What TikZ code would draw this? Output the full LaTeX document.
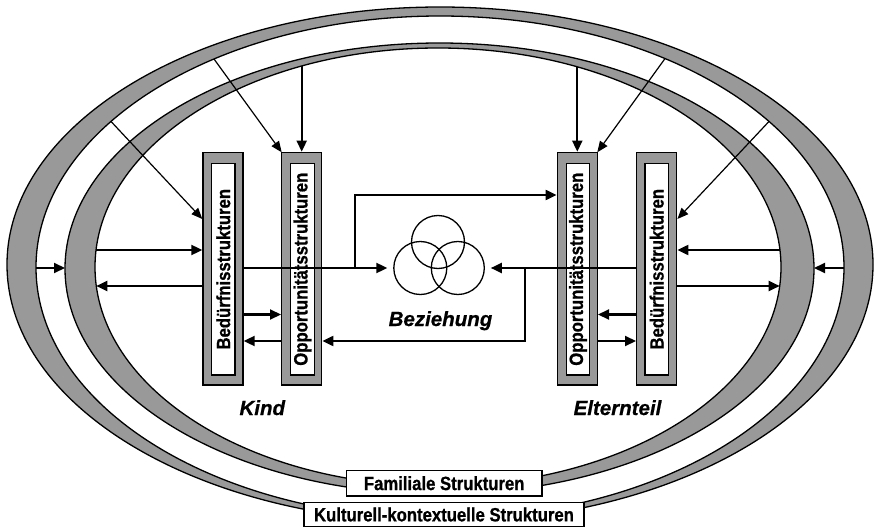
\documentclass[tikz,border=0pt]{standalone}
\usepackage{fontspec}
\setmainfont{Liberation Sans}
\newfontfamily\narrowsans[FakeStretch=0.87,FakeBold=0.8]{Liberation Sans}
\newfontfamily\heavysans[FakeBold=0.6]{Liberation Sans}
\usetikzlibrary{arrows.meta,calc}
\definecolor{bandgray}{RGB}{153,153,153}
\begin{document}
\begin{tikzpicture}[x=1pt,y=-1pt,
  band/.style={fill=bandgray, draw=black, line width=1.3pt, even odd rule},
  outerbox/.style={draw=black, fill=bandgray, line width=1.4pt, minimum width=40pt, minimum height=232.7pt, inner sep=0pt},
  innerbox/.style={draw=black, fill=white, line width=1.3pt, rotate=90, minimum width=211.7pt, minimum height=23.5pt, inner sep=0pt, font=\narrowsans\fontsize{19.2}{20}\selectfont\bfseries},
  conn/.style={line width=2.1pt},
  arr/.style={conn, -{Triangle[length=11pt,width=10pt]}},
  thinarr/.style={line width=1.2pt, -{Triangle[length=11pt,width=9pt]}},
  ring/.style={circle, draw=black, line width=1.3pt, minimum size=53pt, inner sep=0pt, outer sep=6.5pt},
  role/.style={font=\heavysans\fontsize{20.5}{24}\selectfont\bfseries\itshape, anchor=base, inner sep=0pt},
  tag/.style={draw=black, fill=white, line width=1.4pt, inner sep=0pt, font=\narrowsans\fontsize{19.2}{20}\selectfont\bfseries}
]
\useasboundingbox (0,0) rectangle (876,527);

% crescents
\path[band] (440,264.6) ellipse[x radius=433pt, y radius=257.6pt]
            (440,267.3) ellipse[x radius=404pt, y radius=251.3pt];
\path[band] (439.5,268.5) ellipse[x radius=374.5pt, y radius=225.5pt]
            (438,267) ellipse[x radius=343pt, y radius=219pt];

% helper levels
\coordinate (Y195) at (0,195);
\coordinate (Y219) at (0,219);
\coordinate (Y268) at (0,268);
\coordinate (Y314) at (0,314.5);
\coordinate (Y341) at (0,341);

% points on the crescents
\coordinate (tk) at (301.7,{267-219*sqrt(1-((301.7-438)/343)^2)});
\coordinate (te) at (577.3,{267-219*sqrt(1-((577.3-438)/343)^2)});
\coordinate (dk1) at (214,{267.3-251.3*sqrt(1-((214-440)/404)^2)});
\coordinate (dk2) at (111,{267.3-251.3*sqrt(1-((111-440)/404)^2)});
\coordinate (de1) at (665,{267.3-251.3*sqrt(1-((665-440)/404)^2)});
\coordinate (de2) at (769,{267.3-251.3*sqrt(1-((769-440)/404)^2)});
\coordinate (hk250) at ({438-343*sqrt(1-((250-267)/219)^2)},250);
\coordinate (hk286) at ({438-343*sqrt(1-((286-267)/219)^2)},286);
\coordinate (he250) at ({438+343*sqrt(1-((250-267)/219)^2)},250);
\coordinate (he286) at ({438+343*sqrt(1-((286-267)/219)^2)},286);
\coordinate (ok) at ({440-404*sqrt(1-((268-267.3)/251.3)^2)},268);
\coordinate (ik) at ({439.5-374.5*sqrt(1-((268-268.5)/225.5)^2)},268);
\coordinate (oe) at ({440+404*sqrt(1-((268-267.3)/251.3)^2)},268);
\coordinate (ie) at ({439.5+374.5*sqrt(1-((268-268.5)/225.5)^2)},268);

% diagonal connectors
\draw[thinarr] (dk1) -- (281.7,152.3) coordinate (kon);
\draw[thinarr] (de1) -- (597.3,152.3) coordinate (eon);

% boxes
\node[outerbox] (kb) at (223,268.7) {};
\node[outerbox] (ko) at (301.7,268.7) {};
\node[outerbox] (eo) at (577.3,268.7) {};
\node[outerbox] (eb) at (656.7,268.7) {};
\node[innerbox] (kbi) at (223.3,269.2) {Bedürfnisstrukturen};
\node[innerbox] (koi) at (302.5,269.2) {Opportunitätsstrukturen};
\node[innerbox] (eoi) at (578,269.2) {Opportunitätsstrukturen};
\node[innerbox] (ebi) at (656.7,269.2) {Bedürfnisstrukturen};

\draw[thinarr] (dk2) -- (kb.west |- Y219);
\draw[thinarr] (de2) -- (eb.east |- Y219);

% relationship symbol
\node[ring] (c1) at (438,242) {};
\node[ring] (c2) at (420.3,268) {};
\node[ring] (c3) at (457.8,268) {};
\node[role] (bez) at (440.5,326) {Beziehung};

% connectors
\draw[arr] (tk) -- (ko.north);
\draw[arr] (te) -- (eo.north);
\draw[arr] (hk250) -- (kb.west |- hk250);
\draw[arr] (kb.west |- hk286) -- (hk286);
\draw[arr] (he250) -- (eb.east |- he250);
\draw[arr] (eb.east |- he286) -- (he286);
\draw[arr] (ok) -- (ik);
\draw[arr] (oe) -- (ie);
\draw[arr] (kb.east |- Y314) -- (ko.west |- Y314);
\draw[arr] (ko.west |- Y341) -- (kb.east |- Y341);
\draw[arr] (eb.west |- Y314) -- (eo.east |- Y314);
\draw[arr] (eo.east |- Y341) -- (eb.west |- Y341);
\coordinate (jk) at (355,268);
\coordinate (je) at (525,268);
\draw[conn] (kb.east |- Y268) -- (jk);
\draw[arr] (jk) -- (c2.west);
\draw[arr] (jk) |- (eo.west |- Y195);
\draw[conn] (eb.west |- Y268) -- (je);
\draw[arr] (je) -- (c3.east);
\draw[arr] (je) |- (ko.east |- Y341);

% role labels
\node[role] (kind) at (262.3,415) {Kind};
\node[role] (elt) at (617.5,415) {Elternteil};

% structure tags
\node[tag, minimum width=195.5pt, minimum height=25.5pt] (fam) at (444.2,483.2) {Familiale Strukturen};
\node[tag, minimum width=280pt, minimum height=24pt] (kul) at (444,514.5) {Kulturell-kontextuelle Strukturen};
\end{tikzpicture}
\end{document}
